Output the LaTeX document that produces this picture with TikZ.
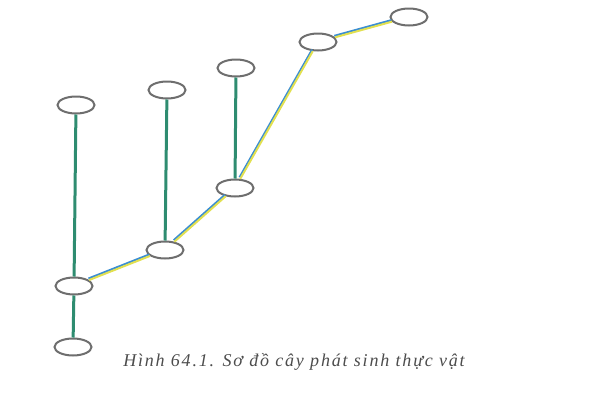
\documentclass[tikz,border=0pt]{standalone}
\usepackage{fontspec}
\setmainfont{Liberation Serif}
\newfontfamily\captionfont[LetterSpace=10]{Liberation Serif}
\usepackage{tikz}
\usetikzlibrary{positioning, shapes.geometric}
\definecolor{stemgreen}{HTML}{2E8C70}
\definecolor{stemblue}{HTML}{3B8ED2}
\definecolor{stemyellow}{HTML}{E2E050}
\definecolor{cellgray}{HTML}{6E6E6E}
\tikzset{
	x=1pt, y=-1pt,
	taxon/.style= {
		ellipse,
		draw=cellgray,
		line width=2pt,
		fill=white,
		minimum width=37pt,
		minimum height=17pt,
		inner sep=0pt
	},
	stem/.style= {
		draw=stemgreen,
		line width=3pt
	},
	branch/.style= {
		draw=stemyellow,
		line width=2pt,
		preaction={draw=stemblue, line width=2pt, transform canvas={shift={(-0.7pt,1.5pt)}}}
	},
	caption/.style= {
		font=\captionfont\fontsize{18}{21}\selectfont\itshape,
		text=black!70
	}
}

\begin{document}
\begin{tikzpicture}

	\useasboundingbox (0,0) rectangle (600,402);

	% nodes along the main branch
	\node (root)[taxon] at (73,347) {};
	\node (A)[taxon] at (74,286) {};
	\node (B)[taxon] at (165,250) {};
	\node (C)[taxon] at (235,188) {};
	\node (D)[taxon] at (318,42) {};
	\node (E)[taxon] at (409,17) {};

	% side branches
	\node (topA)[taxon, above=162pt of A, xshift=2pt] {};
	\node (topB)[taxon, above=141pt of B, xshift=2pt] {};
	\node (topC)[taxon, above=101pt of C, xshift=1pt] {};

	\draw[stem] (root) to (A);
	\draw[stem] (A) to (topA);
	\draw[stem] (B) to (topB);
	\draw[stem] (C) to (topC);

	\draw[branch] (A) to (B);
	\draw[branch] (B) to (C);
	\draw[branch] (C) to (D);
	\draw[branch] (D) to (E);

	\node (title)[caption] at (294,362) {Hình 64.1. Sơ đồ cây phát sinh thực vật};

\end{tikzpicture}
\end{document}
